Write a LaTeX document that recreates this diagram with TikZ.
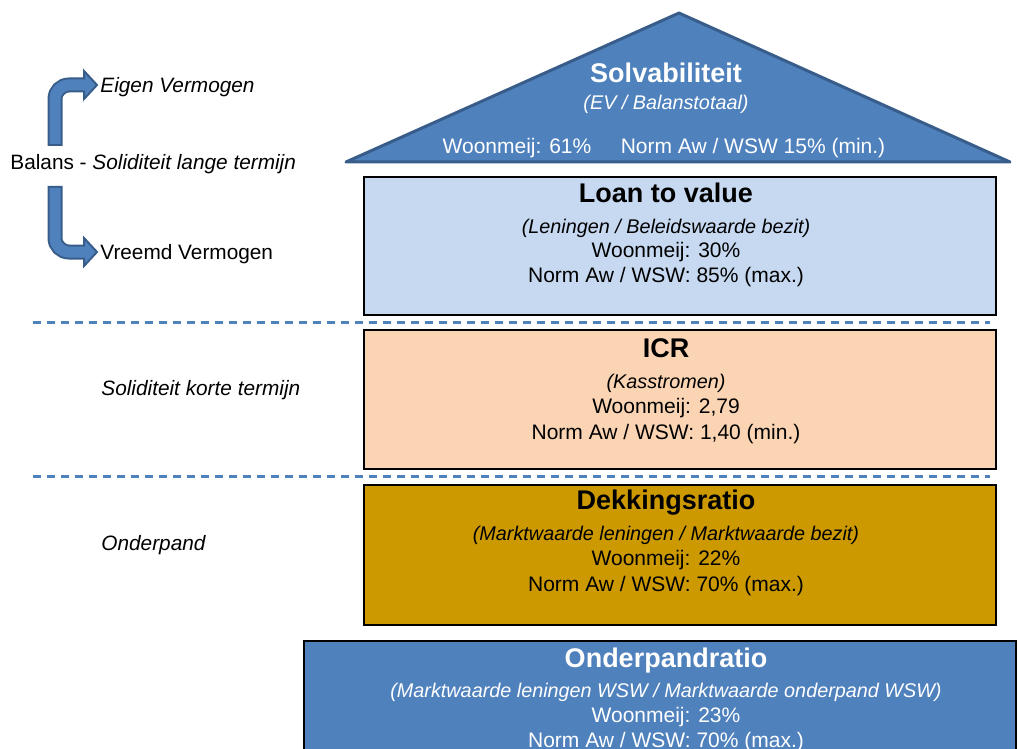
\documentclass[tikz,border=0pt]{standalone}
\usepackage{fontspec}
\setmainfont{Liberation Sans}
\usetikzlibrary{positioning}

\definecolor{solvblue}{HTML}{4F81BD}
\definecolor{solvedge}{HTML}{385D8A}
\definecolor{ltvfill}{HTML}{C6D9F1}
\definecolor{icrfill}{HTML}{FBD4B4}
\definecolor{dekfill}{HTML}{CC9900}

\tikzset{
  ratiobox/.style={draw=black, line width=1pt, inner sep=0pt},
  titletext/.style={font=\fontsize{13.5}{15}\selectfont\bfseries, inner sep=0pt, text height=0.72em, text depth=0pt},
  bodytext/.style={font=\fontsize{10.5}{12}\selectfont, inner sep=0pt, text height=0.72em, text depth=0pt},
  formula/.style={bodytext, font=\fontsize{9.9}{12}\selectfont\itshape},
  sidetext/.style={bodytext, font=\fontsize{10.4}{12}\selectfont, anchor=west},
  sideital/.style={sidetext, font=\fontsize{10.4}{12}\selectfont\itshape},
  sepline/.style={draw=solvblue, line width=1.5pt, dash pattern=on 4pt off 3pt},
  arrowedge/.style={draw=solvedge, line width=7.5pt, rounded corners=7pt},
  arrowbody/.style={draw=solvblue, line width=5.5pt, rounded corners=7pt},
  arrowhead/.style={fill=solvblue, draw=solvedge, line width=1pt, line join=miter}
}

\begin{document}
\begin{tikzpicture}[x=0.5pt, y=-0.5pt]

    % Fix the page to the picture size
    \useasboundingbox (0,0) rectangle (1018,749);
    \clip (0,0) rectangle (1018,749);

    % Roof: Solvabiliteit
    \coordinate (apex) at (679,13);
    \coordinate (roofL) at (346,162);
    \coordinate (roofR) at (1010,162);
    \draw[fill=solvblue, draw=solvedge, line width=1.5pt, line join=round] (apex) -- (roofL) -- (roofR) -- cycle;
    \node[titletext, text=white] (solvtitle) at (666,75) {Solvabiliteit};
    \node[formula, text=white] (solvform) at (666,102) {(EV / Balanstotaal)};
    \node[bodytext, text=white] (solvwm) at (517,146) {Woonmeij: 61\%};
    \node[bodytext, text=white] (solvnorm) at (753,146) {Norm Aw / WSW 15\% (min.)};

    % Loan to value
    \node[ratiobox, fill=ltvfill, minimum width=316pt, minimum height=69pt] (ltv) at (680,246) {};
    \node[titletext] (ltvtitle) at (666,195) {Loan to value};
    \node[formula] (ltvform) at (666,226) {(Leningen / Beleidswaarde bezit)};
    \node[bodytext] (ltvwm) at (666,250) {Woonmeij: 30\%};
    \node[bodytext] (ltvnorm) at (666,275) {Norm Aw / WSW: 85\% (max.)};

    % separator
    \draw[sepline] (33,322) -- (990,322);

    % ICR
    \node[ratiobox, fill=icrfill, minimum width=316pt, minimum height=69.5pt] (icr) at (680,399.5) {};
    \node[titletext] (icrtitle) at (666,350) {ICR};
    \node[formula] (icrform) at (666,381) {(Kasstromen)};
    \node[bodytext] (icrwm) at (666,406) {Woonmeij: 2,79};
    \node[bodytext] (icrnorm) at (666,432) {Norm Aw / WSW: 1,40 (min.)};

    % separator
    \draw[sepline] (33,476) -- (990,476);

    % Dekkingsratio
    \node[ratiobox, fill=dekfill, minimum width=316pt, minimum height=70pt] (dek) at (680,555) {};
    \node[titletext] (dektitle) at (666,502) {Dekkingsratio};
    \node[formula] (dekform) at (666,533) {(Marktwaarde leningen / Marktwaarde bezit)};
    \node[bodytext] (dekwm) at (666,558) {Woonmeij: 22\%};
    \node[bodytext] (deknorm) at (666,584) {Norm Aw / WSW: 70\% (max.)};

    % Onderpandratio (runs off the bottom)
    \node[ratiobox, fill=solvblue, minimum width=356pt, minimum height=70pt] (ond) at (660,711) {};
    \node[titletext, text=white] (ondtitle) at (666,660) {Onderpandratio};
    \node[formula, text=white] (ondform) at (666,690) {(Marktwaarde leningen WSW / Marktwaarde onderpand WSW)};
    \node[bodytext, text=white] (ondwm) at (666,715) {Woonmeij: 23\%};
    \node[bodytext, text=white] (ondnorm) at (666,740) {Norm Aw / WSW: 70\% (max.)};

    % Left hand labels
    \node[sidetext] (balans) at (10,162) {Balans - \textit{Soliditeit lange termijn}};
    \node[sideital] (eigen) at (100,85) {Eigen Vermogen};
    \node[sidetext] (vreemd) at (100,252) {Vreemd Vermogen};
    \node[sideital] (kort) at (101,388) {Soliditeit korte termijn};
    \node[sideital] (onderpand) at (101,543) {Onderpand};

    % Bent arrows from Balans to EV and VV
    \coordinate (evstart) at (55,146);
    \coordinate (vvstart) at (55,186);
    \coordinate (evbase) at ([xshift=-8pt]eigen.west);
    \coordinate (vvbase) at ([xshift=-8pt]vreemd.west);

    \draw[arrowedge] (evstart) |- (evbase);
    \draw[arrowhead] ([yshift=7pt]evbase) -- ([xshift=-1.5pt]eigen.west) -- ([yshift=-7pt]evbase) -- cycle;
    \draw[arrowbody, shorten <=1pt, shorten >=-1pt] (evstart) |- (evbase);

    \draw[arrowedge] (vvstart) |- (vvbase);
    \draw[arrowhead] ([yshift=7pt]vvbase) -- ([xshift=-1.5pt]vreemd.west) -- ([yshift=-7pt]vvbase) -- cycle;
    \draw[arrowbody, shorten <=1pt, shorten >=-1pt] (vvstart) |- (vvbase);

\end{tikzpicture}
\end{document}
